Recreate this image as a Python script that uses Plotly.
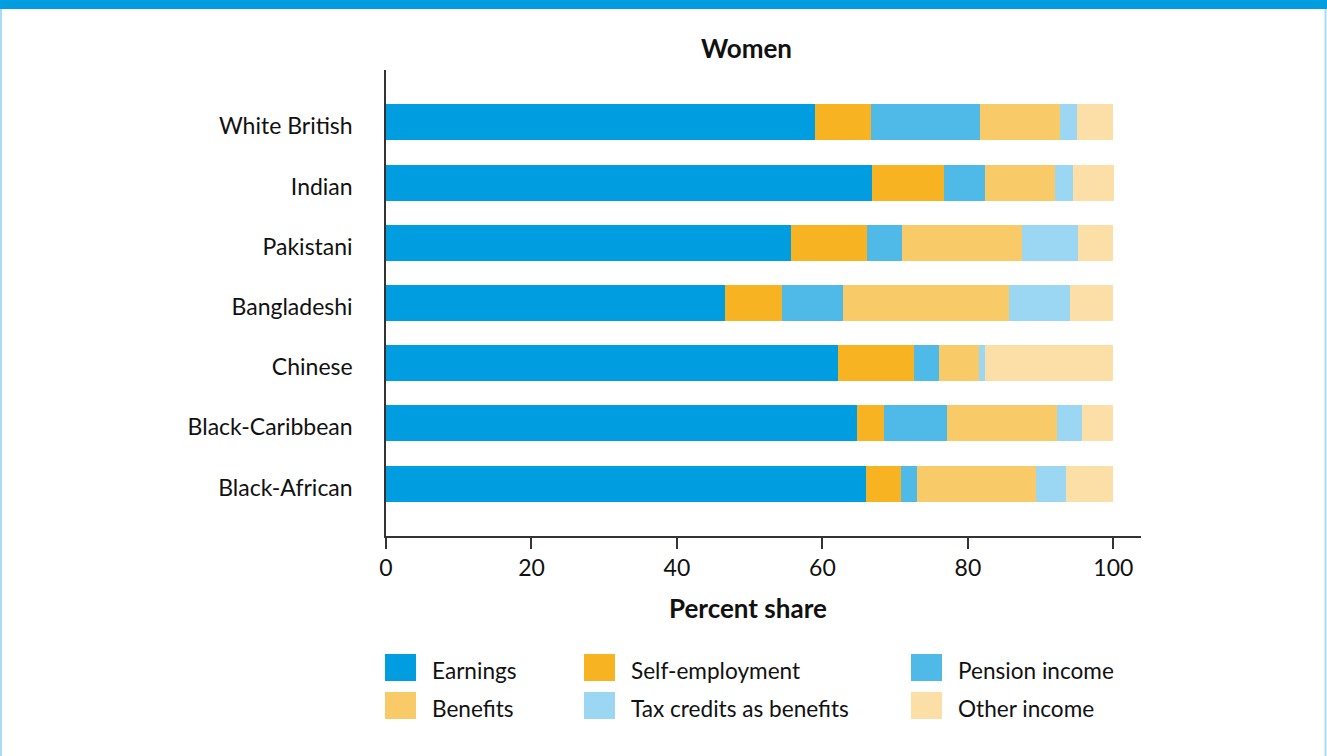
import plotly.graph_objects as go

# Income composition (percent share) for women, by ethnic group
groups = ["White British", "Indian", "Pakistani", "Bangladeshi",
          "Chinese", "Black-Caribbean", "Black-African"]

earnings = [59.0, 66.8, 55.7, 46.6, 62.1, 64.7, 66.0]
self_employment = [7.7, 9.9, 10.4, 7.8, 10.5, 3.8, 4.8]
pension_income = [15.0, 5.6, 4.8, 8.4, 3.4, 8.6, 2.2]
benefits = [10.9, 9.7, 16.5, 22.8, 5.5, 15.2, 16.3]
tax_credits = [2.4, 2.5, 7.7, 8.4, 0.8, 3.4, 4.2]
other_income = [5.0, 5.6, 4.9, 6.0, 17.7, 4.3, 6.5]

series_names = ["Earnings", "Self-employment", "Pension income",
                "Benefits", "Tax credits as benefits", "Other income"]
series_values = [earnings, self_employment, pension_income,
                 benefits, tax_credits, other_income]
series_colors = ["#009EE0", "#F7B322", "#4FB9E8",
                 "#F9CA68", "#9BD7F2", "#FCDFA7"]

x_ticks = [0, 20, 40, 60, 80, 100]

W, H = 1327, 756
L, R, T, B = 386, 186, 70, 220
PW, PH = W - L - R, H - T - B
FONT = "Lato"


def px(x):
    return (x - L) / PW


def py(y):
    return (H - B - y) / PH


fig = go.Figure()
for name, vals, col in zip(series_names, series_values, series_colors):
    fig.add_trace(go.Bar(
        y=groups, x=vals, name=name, orientation="h",
        marker=dict(color=col, line=dict(width=0)),
        width=0.6, showlegend=False,
    ))

n = len(groups)
fig.update_layout(
    width=W, height=H,
    margin=dict(l=L, r=R, t=T, b=B, pad=0),
    barmode="stack",
    paper_bgcolor="white", plot_bgcolor="white",
    font=dict(family=FONT, size=23, color="#111111"),
    xaxis=dict(
        range=[0, 103.8], tickvals=x_ticks, ticktext=[str(v) for v in x_ticks],
        showgrid=False, zeroline=False, showline=True,
        linecolor="#333333", linewidth=1.5,
        ticks="outside", ticklen=11, tickwidth=1.5, tickcolor="#333333",
        tickfont=dict(size=23, color="#111111"),
    ),
    yaxis=dict(
        type="category", categoryorder="array", categoryarray=groups,
        range=[n - 1 + 0.87, -0.87],
        showgrid=False, zeroline=False, showline=True,
        linecolor="#333333", linewidth=1.5,
        ticks="", ticklabelstandoff=27, ticklabelshift=-4,
        tickfont=dict(size=23, color="#111111"),
    ),
)

# Panel title and axis title
fig.add_annotation(text="<b>Women</b>", x=px(746), y=py(48), xref="paper", yref="paper",
                   showarrow=False, font=dict(size=26, family=FONT, color="#111111"),
                   xanchor="center", yanchor="middle")
fig.add_annotation(text="<b>Percent share</b>", x=px(748), y=py(608), xref="paper", yref="paper",
                   showarrow=False, font=dict(size=26, family=FONT, color="#111111"),
                   xanchor="center", yanchor="middle")

# Legend: three columns, two rows of colour swatches with labels
col_x = [385, 584, 911]
row_y = [654, 692]
for i, (name, col) in enumerate(zip(series_names, series_colors)):
    cx = col_x[i % 3]
    ry = row_y[i // 3]
    fig.add_shape(type="rect", xref="paper", yref="paper",
                  x0=px(cx), x1=px(cx + 31), y0=py(ry + 27), y1=py(ry),
                  fillcolor=col, line=dict(width=0), layer="above")
    fig.add_annotation(text=name, x=px(cx + 45), y=py(ry + 16), xref="paper", yref="paper",
                       showarrow=False, xanchor="left", yanchor="middle",
                       font=dict(size=22.6, family=FONT, color="#111111"))

# Page frame: blue band on top with light side rules
fig.add_shape(type="rect", xref="paper", yref="paper",
              x0=px(0), x1=px(W), y0=py(9), y1=py(-2),
              fillcolor="#009EE0", line=dict(width=0), layer="above")
for fx in (1, W - 1.5):
    fig.add_shape(type="line", xref="paper", yref="paper",
                  x0=px(fx), x1=px(fx), y0=py(9), y1=py(H + 2),
                  line=dict(color="#A9DCF4", width=2), layer="above")

fig.write_html("out.html")
